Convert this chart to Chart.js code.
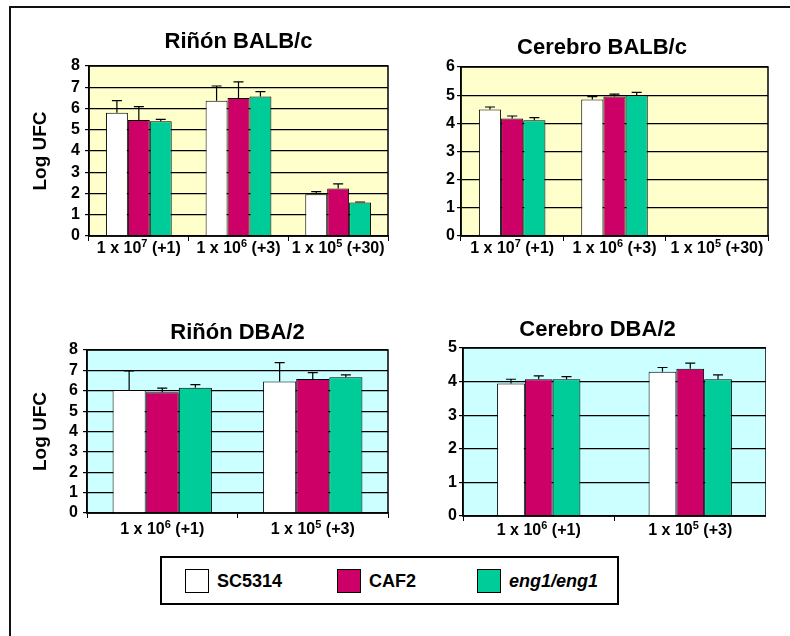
<!DOCTYPE html>
<html>
<head>
<meta charset="utf-8">
<script src="https://cdn.jsdelivr.net/npm/chart.js@4.4.0/dist/chart.umd.min.js"></script>
<style>
  body { margin: 0; width: 790px; height: 636px; position: relative; overflow: hidden; background: #fff;
         font-family: "Liberation Sans", Arial, sans-serif; }
  .frame { position: absolute; left: 9px; top: 6px; width: 800px; height: 700px;
           border-top: 2px solid #111; border-left: 2px solid #111; }
  canvas { position: absolute; }
  .legend { position: absolute; left: 160px; top: 556px; width: 455px; height: 45px;
            border: 2px solid #000; box-sizing: content-box; }
  .item { position: absolute; top: 11px; height: 24px; display: flex; align-items: center;
          font-weight: bold; font-size: 18px; color: #000; }
  .sw { width: 22px; height: 22px; border: 1px solid #000; margin-right: 8px; }
</style>
</head>
<body>
<div class="frame"></div>
<canvas id="c1" width="385" height="250" style="left:10px;top:15px"></canvas>
<canvas id="c2" width="340" height="250" style="left:436px;top:15px"></canvas>
<canvas id="c3" width="385" height="252" style="left:10px;top:290px"></canvas>
<canvas id="c4" width="337" height="255" style="left:429px;top:290px"></canvas>
<div class="legend" id="legend"></div>
<script>
// categories (base, exponent, suffix)
const balbLabels = ['1 x 10^7 (+1)', '1 x 10^6 (+3)', '1 x 10^5 (+30)'];
const dbaLabels = ['1 x 10^6 (+1)', '1 x 10^5 (+3)'];
const strains = ['SC5314', 'CAF2', 'eng1/eng1'];

// Riñón BALB/c  (Log UFC, + upper error)
const kidBalbSC = [5.80, 6.37, 1.96];
const kidBalbCAF = [5.46, 6.49, 2.23];
const kidBalbEng = [5.40, 6.56, 1.58];
const kidBalbSCErr = [0.57, 0.69, 0.13];
const kidBalbCAFErr = [0.63, 0.76, 0.22];
const kidBalbEngErr = [0.09, 0.23, 0.02];

// Cerebro BALB/c
const brainBalbSC = [4.49, 4.85, null];
const brainBalbCAF = [4.17, 4.95, null];
const brainBalbEng = [4.11, 5.00, null];
const brainBalbSCErr = [0.09, 0.10, null];
const brainBalbCAFErr = [0.09, 0.09, null];
const brainBalbEngErr = [0.09, 0.10, null];

// Riñón DBA/2
const kidDbaSC = [6.04, 6.45];
const kidDbaCAF = [5.93, 6.58];
const kidDbaEng = [6.15, 6.66];
const kidDbaSCErr = [0.93, 0.93];
const kidDbaCAFErr = [0.20, 0.31];
const kidDbaEngErr = [0.15, 0.12];

// Cerebro DBA/2
const brainDbaSC = [3.94, 4.29];
const brainDbaCAF = [4.07, 4.38];
const brainDbaEng = [4.07, 4.07];
const brainDbaSCErr = [0.13, 0.13];
const brainDbaCAFErr = [0.10, 0.17];
const brainDbaEngErr = [0.08, 0.13];

const barColors = ['#FFFFFF', '#CC0066', '#00CC99'];
const FONT = '"Liberation Sans", Arial, sans-serif';

Chart.defaults.font.family = FONT;
Chart.defaults.color = '#000';

// fill plot area + frame it
const plotBg = {
  id: 'plotBg',
  beforeDraw(chart, args, opts) {
    const a = chart.chartArea, c = chart.ctx;
    c.save();
    c.fillStyle = opts.color;
    c.fillRect(a.left, a.top, a.right - a.left, a.bottom - a.top);
    c.restore();
  },
  afterDraw(chart) {
    const a = chart.chartArea, c = chart.ctx;
    c.save();
    c.strokeStyle = '#000';
    c.lineWidth = 1.5;
    c.strokeRect(a.left, a.top, a.right - a.left, a.bottom - a.top);
    c.restore();
  }
};

// upward error whiskers
const errBars = {
  id: 'errBars',
  afterDatasetsDraw(chart) {
    const c = chart.ctx, ys = chart.scales.y;
    c.save();
    c.strokeStyle = '#000';
    c.lineWidth = 1.2;
    chart.data.datasets.forEach((ds, i) => {
      const meta = chart.getDatasetMeta(i);
      meta.data.forEach((el, j) => {
        const v = ds.data[j], e = ds.err[j];
        if (v == null || e == null) return;
        const yTop = ys.getPixelForValue(v + e);
        c.beginPath();
        c.moveTo(el.x, el.y);
        c.lineTo(el.x, yTop);
        c.moveTo(el.x - 5, yTop);
        c.lineTo(el.x + 5, yTop);
        c.stroke();
      });
    });
    c.restore();
  }
};

// category labels with a real superscript exponent
const supLabels = {
  id: 'supLabels',
  afterDraw(chart, args, opts) {
    const c = chart.ctx, xs = chart.scales.x;
    const base = 'bold 16px ' + FONT, sup = 'bold 11px ' + FONT;
    c.save();
    c.fillStyle = '#000';
    c.textBaseline = 'alphabetic';
    c.textAlign = 'left';
    chart.data.labels.forEach((lab, i) => {
      const m = lab.match(/^(.*)\^(\d+)(.*)$/);
      const parts = m ? [[m[1], base, 0], [m[2], sup, -6], [m[3], base, 0]] : [[lab, base, 0]];
      let w = 0;
      parts.forEach(p => { c.font = p[1]; w += c.measureText(p[0]).width; });
      let x = xs.getPixelForTick(i) - w / 2;
      const y = xs.top + opts.baseline;
      parts.forEach(p => {
        c.font = p[1];
        c.fillText(p[0], x, y + p[2]);
        x += c.measureText(p[0]).width;
      });
    });
    c.restore();
  }
};

function makePanel(id, p) {
  const datasets = p.values.map((vals, i) => ({
    label: strains[i],
    data: vals,
    err: p.errs[i],
    backgroundColor: barColors[i],
    borderColor: '#000',
    borderWidth: 1,
    categoryPercentage: p.catPct,
    barPercentage: 1
  }));

  return new Chart(document.getElementById(id), {
    type: 'bar',
    data: { labels: p.labels, datasets },
    plugins: [plotBg, errBars, supLabels],
    options: {
      responsive: false,
      animation: false,
      layout: { padding: { left: 0, right: p.padRight, top: 0, bottom: 0 } },
      plugins: {
        legend: { display: false },
        tooltip: { enabled: false },
        plotBg: { color: p.bg },
        supLabels: { baseline: p.xBase },
        title: {
          display: true,
          text: p.title,
          fullSize: p.fullTitle,
          font: { size: 22, weight: 'bold' },
          color: '#000',
          padding: { top: p.titleTop, bottom: p.titleBottom }
        }
      },
      scales: {
        x: {
          grid: { display: true, drawOnChartArea: false, color: '#000', tickLength: 5, offset: true },
          border: { color: '#000', width: 1.5 },
          ticks: { display: false },
          afterFit: s => { s.height = p.xHeight; }
        },
        y: {
          min: 0,
          max: p.yMax,
          ticks: { stepSize: 1, autoSkip: false, font: { size: 16, weight: 'bold' }, color: '#000', padding: p.tickPad },
          grid: { color: '#000', lineWidth: 1.2, tickLength: 4 },
          border: { color: '#000', width: 1.5 },
          title: {
            display: !!p.yTitle,
            text: p.yTitle || '',
            font: { size: 19, weight: 'bold' },
            color: '#000',
            padding: { top: 19, bottom: 0 }
          },
          afterFit: s => { s.width = p.yWidth; }
        }
      }
    }
  });
}

makePanel('c1', {
  title: 'Riñón BALB/c', labels: balbLabels, yMax: 8, yTitle: 'Log UFC',
  values: [kidBalbSC, kidBalbCAF, kidBalbEng],
  errs: [kidBalbSCErr, kidBalbCAFErr, kidBalbEngErr],
  bg: '#FFFFCC', catPct: 0.66, fullTitle: false,
  yWidth: 79, xHeight: 29, padRight: 7, tickPad: 5, titleTop: 13.8, titleBottom: 10.8, xBase: 17
});

makePanel('c2', {
  title: 'Cerebro BALB/c', labels: balbLabels, yMax: 6,
  values: [brainBalbSC, brainBalbCAF, brainBalbEng],
  errs: [brainBalbSCErr, brainBalbCAFErr, brainBalbEngErr],
  bg: '#FFFFCC', catPct: 0.65, fullTitle: true,
  yWidth: 25, xHeight: 29, padRight: 8, tickPad: 2, titleTop: 19.8, titleBottom: 5.8, xBase: 17
});

makePanel('c3', {
  title: 'Riñón DBA/2', labels: dbaLabels, yMax: 8, yTitle: 'Log UFC',
  values: [kidDbaSC, kidDbaCAF, kidDbaEng],
  errs: [kidDbaSCErr, kidDbaCAFErr, kidDbaEngErr],
  bg: '#CCFFFF', catPct: 0.66, fullTitle: false,
  yWidth: 77, xHeight: 29, padRight: 7, tickPad: 5, titleTop: 29.8, titleBottom: 3.8, xBase: 21
});

makePanel('c4', {
  title: 'Cerebro DBA/2', labels: dbaLabels, yMax: 5,
  values: [brainDbaSC, brainDbaCAF, brainDbaEng],
  errs: [brainDbaSCErr, brainDbaCAFErr, brainDbaEngErr],
  bg: '#CCFFFF', catPct: 0.55, fullTitle: true,
  yWidth: 34, xHeight: 29, padRight: 0, tickPad: 2, titleTop: 26.8, titleBottom: 4.8, xBase: 19
});

// shared legend box
const legendX = [23, 175, 315];
const legendEl = document.getElementById('legend');
strains.forEach((name, i) => {
  const it = document.createElement('div');
  it.className = 'item';
  it.style.left = legendX[i] + 'px';
  const sw = document.createElement('span');
  sw.className = 'sw';
  sw.style.background = barColors[i];
  const tx = document.createElement('span');
  tx.textContent = name;
  if (i === 2) tx.style.fontStyle = 'italic';
  it.appendChild(sw);
  it.appendChild(tx);
  legendEl.appendChild(it);
});
</script>
</body>
</html>
